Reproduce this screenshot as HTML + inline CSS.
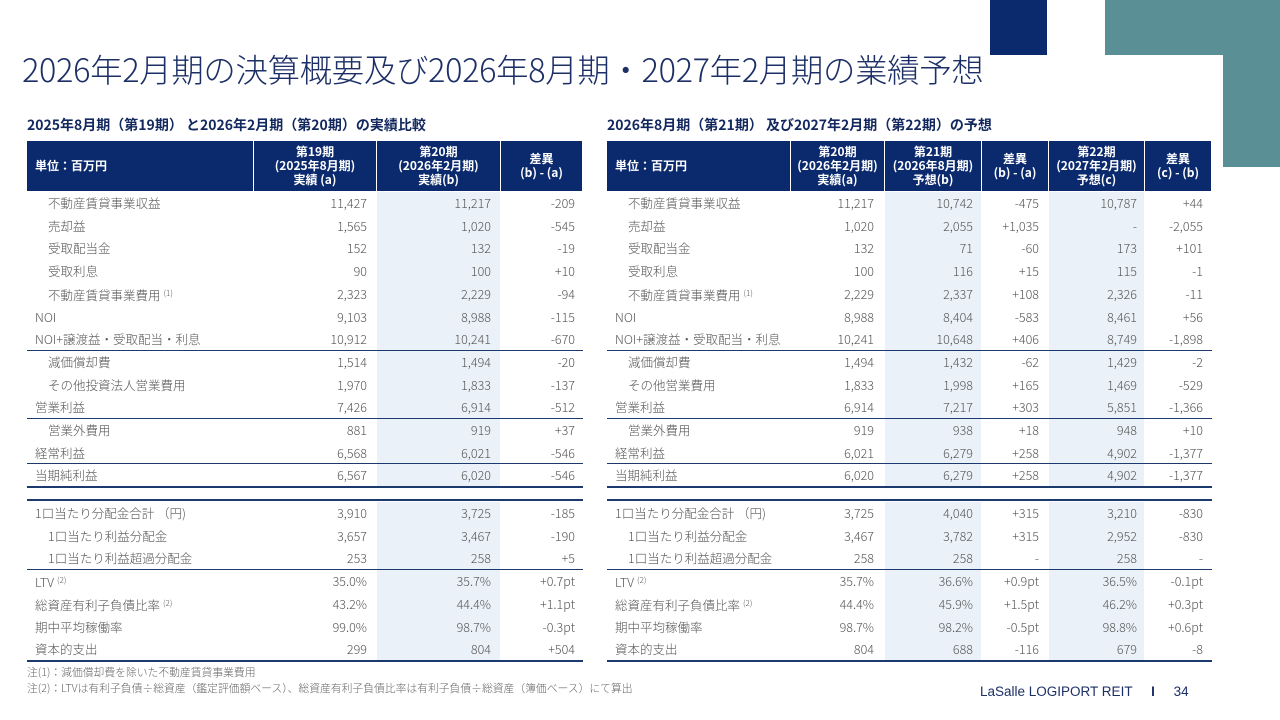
<!DOCTYPE html>
<html><head><meta charset="utf-8">
<style>
body{margin:0;width:1280px;height:720px;position:relative;background:#fff;overflow:hidden;font-family:"Liberation Sans","Noto Sans CJK JP",sans-serif;}
.abs{position:absolute;}
.title{left:22px;top:45px;font-size:32.4px;color:#1c2f66;font-family:"Noto Sans CJK JP",sans-serif;font-weight:300;white-space:nowrap;letter-spacing:-0.3px;}
.sub{font-size:14px;font-weight:bold;color:#12285e;font-family:"Noto Sans CJK JP",sans-serif;white-space:nowrap;}
.hc{position:absolute;background:#0b2a6e;color:#fff;font-size:12px;font-weight:bold;font-family:"Noto Sans CJK JP",sans-serif;display:flex;align-items:center;justify-content:center;text-align:center;line-height:14px;}
.cell{position:absolute;height:22.7px;line-height:22.7px;font-size:12.5px;color:#555;font-family:"Noto Sans CJK JP",sans-serif;font-weight:300;white-space:nowrap;}
.shade{position:absolute;background:#eaf1f8;}
.line{position:absolute;background:#1c3a6e;}
.note{font-size:10.8px;color:#666;font-family:"Noto Sans CJK JP",sans-serif;font-weight:300;white-space:nowrap;}
sup{font-size:8px;vertical-align:4px;margin-left:3px;}
</style></head><body>
<div class="abs" style="left:990px;top:0;width:57px;height:55px;background:#0b2a6e"></div>
<div class="abs" style="left:1105px;top:0;width:175px;height:55px;background:#5b8f96"></div>
<div class="abs" style="left:1223px;top:55px;width:57px;height:112px;background:#5b8f96"></div>
<div class="abs title">2026年2月期の決算概要及び2026年8月期・2027年2月期の業績予想</div>
<div class="abs sub" style="left:27px;top:115px">2025年8月期（第19期） と2026年2月期（第20期）の実績比較</div>
<div class="abs sub" style="left:607px;top:115px">2026年8月期（第21期） 及び2027年2月期（第22期）の予想</div>
<div id="tables"></div>
<div class="abs note" style="left:27px;top:664px">注(1)：減価償却費を除いた不動産賃貸事業費用</div>
<div class="abs note" style="left:27px;top:680px">注(2)：LTVは有利子負債÷総資産（鑑定評価額ベース）、総資産有利子負債比率は有利子負債÷総資産（簿価ベース）にて算出</div>
<div class="abs" style="left:980px;top:684px;font-size:13.5px;color:#1c2f66;white-space:nowrap">LaSalle LOGIPORT REIT &nbsp;&nbsp;&nbsp;&nbsp;<b>I</b>&nbsp;&nbsp;&nbsp;&nbsp; 34</div>
<script>
const labels=[["不動産賃貸事業収益",1,""],["売却益",1,""],["受取配当金",1,""],["受取利息",1,""],["不動産賃貸事業費用",1,"(1)"],["NOI",0,""],["NOI+譲渡益・受取配当・利息",0,""],["減価償却費",1,""],["その他投資法人営業費用",1,""],["営業利益",0,""],["営業外費用",1,""],["経常利益",0,""],["当期純利益",0,""],["1口当たり分配金合計 （円)",0,""],["1口当たり利益分配金",1,""],["1口当たり利益超過分配金",1,""],["LTV",0,"(2)"],["総資産有利子負債比率",0,"(2)"],["期中平均稼働率",0,""],["資本的支出",0,""]];
const rightLabels=labels.map(l=>l.slice());
rightLabels[8][0]="その他営業費用";
const leftP19=["11,427","1,565","152","90","2,323","9,103","10,912","1,514","1,970","7,426","881","6,568","6,567","3,910","3,657","253","35.0%","43.2%","99.0%","299"];
const leftP20=["11,217","1,020","132","100","2,229","8,988","10,241","1,494","1,833","6,914","919","6,021","6,020","3,725","3,467","258","35.7%","44.4%","98.7%","804"];
const leftDiff=["-209","-545","-19","+10","-94","-115","-670","-20","-137","-512","+37","-546","-546","-185","-190","+5","+0.7pt","+1.1pt","-0.3pt","+504"];
const rightP20=leftP20;
const rightP21=["10,742","2,055","71","116","2,337","8,404","10,648","1,432","1,998","7,217","938","6,279","6,279","4,040","3,782","258","36.6%","45.9%","98.2%","688"];
const rightDiffA=["-475","+1,035","-60","+15","+108","-583","+406","-62","+165","+303","+18","+258","+258","+315","+315","-","+0.9pt","+1.5pt","-0.5pt","-116"];
const rightP22=["10,787","-","173","115","2,326","8,461","8,749","1,429","1,469","5,851","948","4,902","4,902","3,210","2,952","258","36.5%","46.2%","98.8%","679"];
const rightDiffB=["+44","-2,055","+101","-1","-11","+56","-1,898","-2","-529","-1,366","+10","-1,377","-1,377","-830","-830","-","-0.1pt","+0.3pt","+0.6pt","-8"];

const root=document.getElementById('tables');
function rowTop(r){return r<13?192+r*22.7:502+(r-13)*22.7;}
function mk(cls,css){const d=document.createElement('div');d.className=cls;d.style.cssText=css;root.appendChild(d);return d;}
function build(prefix,x0,x1,labelW,cols,heads,labs){
  let d=mk('hc',`left:${x0}px;top:141px;width:${labelW-1}px;height:50px;justify-content:flex-start;padding-left:8px;box-sizing:border-box`);
  d.textContent='単位：百万円';
  
  
  cols.forEach((c,i)=>{
    const h=mk('hc',`left:${c.x}px;top:141px;width:${c.w-1}px;height:50px`);
    h.innerHTML=heads[i];
    
    
  });
  cols.forEach((c,i)=>{ if(c.shade){
    for(let r=0;r<20;r++){const s=mk('shade',`left:${c.x}px;top:${rowTop(r)}px;width:${c.w-1}px;height:${r==12||r==19?22:23}px`);
    
    }
  }});
  labs.forEach((l,r)=>{
    const t=rowTop(r);
    const lc=mk('cell',`left:${x0+(l[1]?21:8)}px;top:${t}px`);
    lc.innerHTML=l[0]+(l[2]?'<sup>'+l[2]+'</sup>':'');
    
    
    cols.forEach((c,i)=>{
      const v=mk('cell',`left:${c.x}px;width:${c.w-c.pad}px;top:${t}px;text-align:right`);
      v.textContent=c.data[r];
      
      
    });
  });
  [[350,1],[418,1],[463,1],[486,2],[499,2],[569,1],[660,2]].forEach(([y,h])=>{
    const ln=mk('line',`left:${x0}px;top:${y}px;width:${x1-x0}px;height:${h}px`);
    
    
  });
}
build('left-table',27,583,227,[
 {x:254,w:123,pad:10,data:leftP19},
 {x:377,w:124,pad:10,shade:1,data:leftP20},
 {x:501,w:82,pad:8,data:leftDiff}],
 ['第19期<br>(2025年8月期)<br>実績 (a)','第20期<br>(2026年2月期)<br>実績(b)','差異<br>(b) - (a)'],labels);
build('right-table',607,1212,184,[
 {x:791,w:94,pad:11,data:rightP20},
 {x:885,w:97,pad:9,shade:1,data:rightP21},
 {x:982,w:67,pad:10,data:rightDiffA},
 {x:1049,w:96,pad:8,shade:1,data:rightP22},
 {x:1145,w:67,pad:9,data:rightDiffB}],
 ['第20期<br>(2026年2月期)<br>実績(a)','第21期<br>(2026年8月期)<br>予想(b)','差異<br>(b) - (a)','第22期<br>(2027年2月期)<br>予想(c)','差異<br>(c) - (b)'],rightLabels);
</script>
</body></html>
